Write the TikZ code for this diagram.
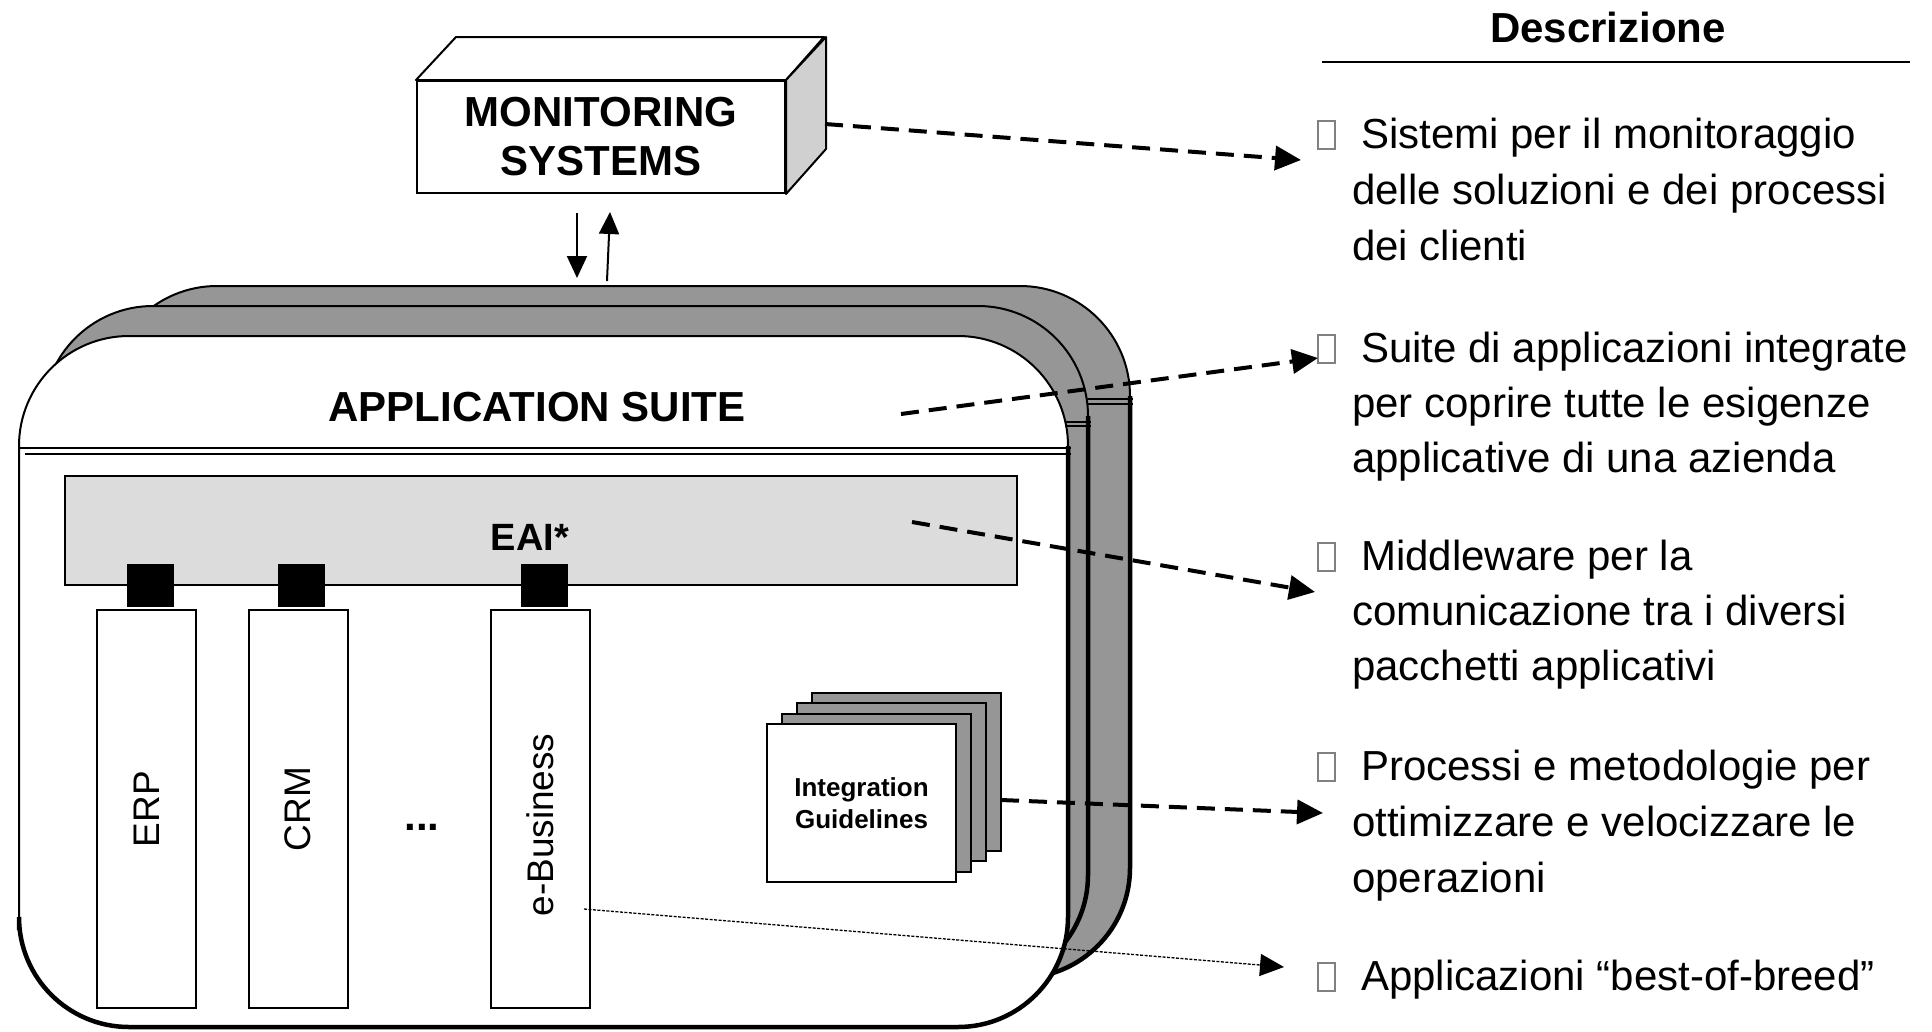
\documentclass[tikz,border=0pt]{standalone}
\usepackage{fontspec}
\setmainfont{Liberation Sans}
\usetikzlibrary{arrows.meta}
\definecolor{midgray}{RGB}{150,150,150}
\definecolor{eaigray}{RGB}{220,220,220}
\definecolor{sidegray}{RGB}{208,208,208}
\begin{document}
\begin{tikzpicture}[x=1pt,y=-1pt,
  layerbox/.style={draw=black,line width=2pt,rounded corners=110pt},
  edgeshade/.style={draw=black,line width=4.5pt,rounded corners=110pt},
  sepline/.style={draw=black,line width=1.3pt},
  appbox/.style={draw=black,line width=2pt,fill=white,rotate=90,minimum width=398pt,minimum height=99pt,inner sep=0pt,font=\fontsize{37}{40}\selectfont},
  connsq/.style={fill=black,minimum width=47pt,minimum height=43pt,inner sep=0pt},
  sheet/.style={draw=black,line width=2pt,fill=midgray,minimum width=189pt,minimum height=158pt,inner sep=0pt},
  dasharrow/.style={line width=4pt,dash pattern=on 18pt off 10pt,-{Triangle[length=26pt,width=24pt]}},
  smallarrow/.style={line width=2pt,-{Triangle[length=22pt,width=20pt]}},
  bulletbox/.style={draw=black!50,line width=1.2pt,minimum width=17pt,minimum height=28pt,inner sep=0pt},
  desc/.style={anchor=base west,inner sep=0pt},
  boldtitle/.style={inner sep=0pt,font=\bfseries\fontsize{42}{49}\selectfont},
]
\useasboundingbox (0,0) rectangle (1932,1031);

% ---------- application suite layers ----------
\path[layerbox,fill=midgray] (107,286) rectangle (1130,978);
\draw[edgeshade] (1130,396) -- (1130,978) -- (900,978);
\draw[sepline] (107,399) -- (1133,399) (107,404) -- (1133,404);

\path[layerbox,fill=midgray] (43,306) rectangle (1088,985);
\draw[edgeshade] (1088,416) -- (1088,985) -- (900,985);
\draw[sepline] (43,422) -- (1091,422) (43,426) -- (1091,426);

\path[layerbox,fill=white] (19,336) rectangle (1068,1027);
\draw[edgeshade] (1068,446) -- (1068,1027) -- (19,1027) -- (19,930);
\draw[sepline] (19,448) -- (1071,448) (25,454) -- (1071,454);

\node[boldtitle,anchor=base] (suite) at (537,421) {APPLICATION SUITE};

% ---------- EAI ----------
\node[draw=black,line width=2pt,fill=eaigray,minimum width=952pt,minimum height=109pt,inner sep=0pt] (eai) at (541,530.5) {};
\node[inner sep=0pt,anchor=base,font=\bfseries\fontsize{38}{44}\selectfont] (eailbl) at (530,550) {EAI*};

\node[connsq] (c1) at (150.5,585.5) {};
\node[connsq] (c2) at (301,585.5) {};
\node[connsq] (c3) at (544.5,585.5) {};

\node[appbox] (erp) at (146.5,809) {ERP};
\node[appbox] (crm) at (298,809) {CRM};
\node[appbox] (ebus) at (540,809) {e-Business\hspace*{32pt}};
\node[anchor=base,inner sep=0pt,font=\bfseries\fontsize{42}{46}\selectfont] (dots) at (422,830) {...};

% ---------- integration guidelines ----------
\node[sheet] (sh4) at (906.5,771.5) {};
\node[sheet] (sh3) at (891.5,782) {};
\node[sheet] (sh2) at (876.5,792.5) {};
\node[sheet,fill=white,align=center,font=\bfseries\fontsize{26}{32}\selectfont] (sh1) at (861.5,803) {Integration\\Guidelines};

% ---------- monitoring systems ----------
\node[draw=black,line width=2pt,fill=white,minimum width=368pt,minimum height=112pt,inner sep=0pt,align=center,font=\bfseries\fontsize{42}{49}\selectfont] (mon) at (601,137) {MONITORING\\SYSTEMS};
\draw[line width=2pt,fill=white,line join=round] (mon.north west) -- ++(40,-43) -- ++(368,0) -- (mon.north east) -- cycle;
\draw[line width=2pt,fill=sidegray,line join=round] (mon.north east) -- ++(40,-43) -- ++(0,112) -- (mon.south east) -- cycle;

\coordinate (dnA) at (577,213);
\coordinate (dnB) at (577,278);
\coordinate (upA) at (607,281);
\coordinate (upB) at (610,212);
\draw[smallarrow] (dnA) -- (dnB);
\draw[smallarrow] (upA) -- (upB);

% ---------- description column ----------
\node[boldtitle,anchor=base] (hdr) at (1608,42) {Descrizione};
\coordinate (hl) at (1322,62);
\coordinate (hr) at (1910,62);
\draw[line width=2pt] (hl) -- (hr);

\node[bulletbox] (b1) at (1326.5,135) {};
\node[desc] (d1) at (1352,148) {\parbox[t]{578pt}{\fontsize{42}{56}\selectfont\hspace*{9pt}Sistemi per il monitoraggio\\delle soluzioni e dei processi\\dei clienti}};
\node[bulletbox] (b2) at (1326.5,349) {};
\node[desc] (d2) at (1352,362) {\parbox[t]{578pt}{\fontsize{42}{55}\selectfont\hspace*{9pt}Suite di applicazioni integrate\\per coprire tutte le esigenze\\applicative di una azienda}};
\node[bulletbox] (b3) at (1326.5,557) {};
\node[desc] (d3) at (1352,570) {\parbox[t]{578pt}{\fontsize{42}{55}\selectfont\hspace*{9pt}Middleware per la\\comunicazione tra i diversi\\pacchetti applicativi}};
\node[bulletbox] (b4) at (1326.5,767) {};
\node[desc] (d4) at (1352,780) {\parbox[t]{578pt}{\fontsize{42}{56}\selectfont\hspace*{9pt}Processi e metodologie per\\ottimizzare e velocizzare le\\operazioni}};
\node[bulletbox] (b5) at (1326.5,977) {};
\node[desc] (d5) at (1352,990) {\parbox[t]{578pt}{\fontsize{42}{56}\selectfont\hspace*{9pt}Applicazioni “best-of-breed”}};

% ---------- connectors ----------
\coordinate (s1) at (825,124);
\coordinate (t1) at (1301,160);
\coordinate (s2) at (901,414);
\coordinate (t2) at (1318,358);
\coordinate (s3) at (912,522);
\coordinate (t3) at (1315,592);
\coordinate (s4) at (1001,800);
\coordinate (t4) at (1323,813);
\coordinate (s5) at (584,909);
\coordinate (t5) at (1284,967);
\draw[dasharrow] (s1) -- (t1);
\draw[dasharrow] (s2) -- (t2);
\draw[dasharrow] (s3) -- (t3);
\draw[dasharrow] (s4) -- (t4);
\draw[line width=1.3pt,dash pattern=on 3pt off 1.5pt,-{Triangle[length=24pt,width=22pt]}] (s5) -- (t5);
\end{tikzpicture}
\end{document}
